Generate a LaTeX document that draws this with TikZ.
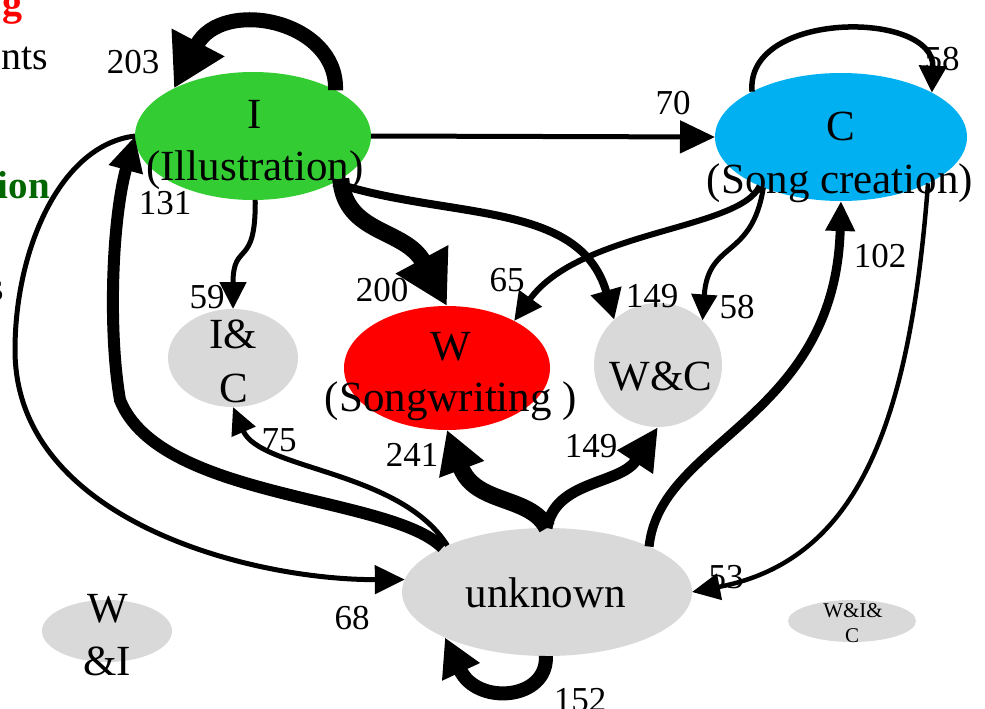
\documentclass[tikz,border=0pt]{standalone}
\usepackage{fontspec}
\setmainfont{Liberation Serif}
\usetikzlibrary{shapes.geometric,arrows.meta,calc}
\definecolor{illgreen}{HTML}{33CC33}
\definecolor{songblue}{HTML}{00B0F0}
\definecolor{writered}{HTML}{FF0000}
\definecolor{mixgray}{HTML}{D9D9D9}
\definecolor{headred}{HTML}{FF0000}
\definecolor{headgreen}{HTML}{006600}
\begin{document}
\begin{tikzpicture}[x=1pt,y=-1pt,
  statebox/.style={ellipse, inner sep=0pt, outer sep=0pt, draw=none},
  statename/.style={font=\fontsize{43}{43}\selectfont, anchor=base, inner sep=0pt},
  smallname/.style={font=\fontsize{21}{21}\selectfont, anchor=base, inner sep=0pt},
  countlbl/.style={font=\fontsize{35}{35}\selectfont, inner sep=0pt},
  edgetext/.style={anchor=base east, inner sep=0pt},
  flow/.style={draw=black, line width=#1}]
\useasboundingbox (0,0) rectangle (985,709);
\clip (0,0) rectangle (985,709);

% states
\node[statebox, fill=illgreen, minimum width=236pt, minimum height=128pt] (I) at (253,136) {};
\node[statebox, fill=songblue, minimum width=252pt, minimum height=128pt] (C) at (841,137) {};
\node[statebox, fill=writered, minimum width=206pt, minimum height=124pt] (W) at (447,368) {};
\node[statebox, fill=mixgray, minimum width=130pt, minimum height=98pt] (IC) at (233,358) {};
\node[statebox, fill=mixgray, minimum width=128pt, minimum height=124pt] (WC) at (658,365) {};
\node[statebox, fill=mixgray, minimum width=290pt, minimum height=128pt] (U) at (547,592) {};
\node[statebox, fill=mixgray, minimum width=130pt, minimum height=62pt] (WI) at (107,631) {};
\node[statebox, fill=mixgray, minimum width=128pt, minimum height=42pt] (WIC) at (852,621) {};

% transitions
\draw[flow=15pt, -{Triangle[length=52pt,width=56pt]}]
  (I.29.5) .. controls (338,20) and (222,-3) .. (I.149);
\draw[flow=5pt, -{Triangle[length=35pt,width=32pt]}] (I.east) -- (C.west);
\draw[flow=17pt, -{Triangle[length=53pt,width=56pt]}]
  (I.-26) .. controls (345,235) and (405,228) .. (W.north);
\draw[flow=8pt, -{Triangle[length=30pt,width=30pt]}]
  (I.-30) .. controls (450,220) and (580,200) .. (WC.134);
\draw[flow=5pt, -{Triangle[length=27pt,width=26pt]}]
  (I.-88) .. controls (256,270) and (233,240) .. (IC.north);
\draw[flow=5.5pt, -{Triangle[length=27pt,width=27pt]}]
  (C.153) .. controls (745,10) and (935,10) .. (C.26);
\draw[flow=6pt, -{Triangle[length=28pt,width=27pt]}]
  (C.-149) .. controls (740,230) and (580,230) .. (W.35);
\draw[flow=5pt, -{Triangle[length=26pt,width=25pt]}]
  (C.-147) .. controls (752,260) and (708,240) .. (WC.45);
\draw[flow=4.5pt, -{Triangle[length=28pt,width=26pt]}]
  (C.-28) .. controls (910,420) and (860,560) .. (U.east);
\draw[flow=9pt, -{Triangle[length=30pt,width=28pt]}]
  (U.24) .. controls (660,440) and (835,420) .. (C.south);
\draw[flow=17pt, -{Triangle[length=42pt,width=45pt]}]
  (U.north) .. controls (530,495) and (475,505) .. (W.south);
\draw[flow=11pt, -{Triangle[length=42pt,width=40pt]}]
  (U.north) .. controls (555,480) and (620,485) .. (WC.south);
\draw[flow=5pt, -{Triangle[length=27pt,width=25pt]}]
  (U.155) .. controls (400,470) and (260,470) .. (IC.south);
\draw[flow=12pt, -{Triangle[length=35pt,width=33pt]}]
  (U.157) .. controls (390,495) and (160,500) .. (120,400)
  .. controls (108,330) and (112,220) .. (I.west);
\draw[flow=5pt, -{Triangle[length=30pt,width=28pt]}]
  (I.west) .. controls (60,145) and (15,250) .. (15,350)
  .. controls (15,520) and (250,580) .. (U.175);
\draw[flow=14pt, -{Triangle[length=38pt,width=39pt]}]
  (U.-91) .. controls (548,700) and (477,706) .. (U.-156);

% state names
\node[statename] (Ia) at (255,128) {I};
\node[statename] (Ib) at (255,180) {(Illustration)};
\node[statename] (Ca) at (841,140) {C};
\node[statename] (Cb) at (840,193) {(Song creation)};
\node[statename] (Wa) at (451,360) {W};
\node[statename] (Wb) at (451,411) {(Songwriting )};
\node[statename] (ICa) at (233,348) {I\&};
\node[statename] (ICb) at (234,402) {C};
\node[statename] (WCa) at (661,390) {W\&C};
\node[statename] (Ua) at (546,607) {unknown};
\node[statename] (WIa) at (108,622) {W};
\node[statename] (WIb) at (107,675) {\&I};
\node[smallname] (WICa) at (853,617) {W\&I\&};
\node[smallname] (WICb) at (852,642) {C};

% transition counts
\node[countlbl] (n203) at (133,62) {203};
\node[countlbl] (n131) at (165,203) {131};
\node[countlbl] (n70) at (673,103) {70};
\node[countlbl] (n58a) at (942,59) {58};
\node[countlbl] (n102) at (880,256) {102};
\node[countlbl] (n58b) at (737,307) {58};
\node[countlbl] (n59) at (207,297) {59};
\node[countlbl] (n200) at (382,290) {200};
\node[countlbl] (n65) at (507,280) {65};
\node[countlbl] (n149a) at (652,296) {149};
\node[countlbl] (n241) at (412,455) {241};
\node[countlbl] (n149b) at (591,446) {149};
\node[countlbl] (n75) at (279,440) {75};
\node[countlbl] (n68) at (352,618) {68};
\node[countlbl] (n53) at (726,577) {53};
\node[countlbl] (n152) at (580,700) {152};

% slide text at the left edge
\node[edgetext, font=\bfseries\fontsize{40}{40}\selectfont, text=headred] (hg) at (23,16) {g};
\node[edgetext, font=\fontsize{40}{40}\selectfont] (hnts) at (48,70) {nts};
\node[edgetext, font=\bfseries\fontsize{39}{39}\selectfont, text=headgreen] (hion) at (50,198) {ion};
\node[edgetext, font=\fontsize{40}{40}\selectfont] (hs) at (4,300) {s};
\end{tikzpicture}
\end{document}
